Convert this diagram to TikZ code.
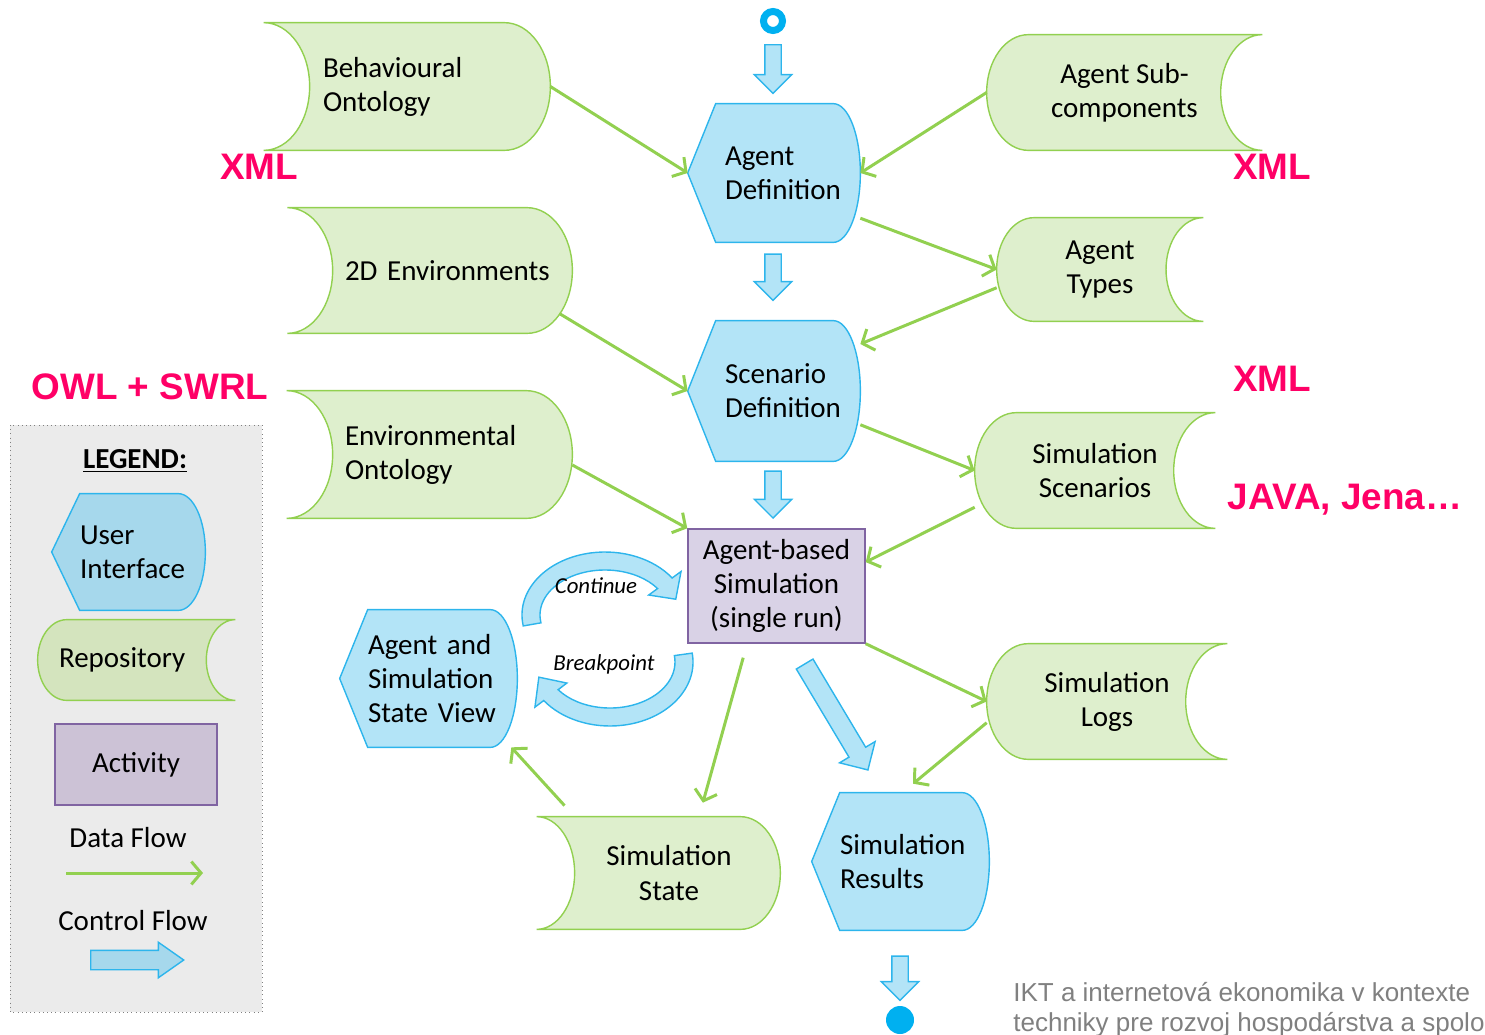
\documentclass[tikz,border=0pt]{standalone}
\usepackage{fontspec}
\setmainfont{Carlito}
\newfontfamily\arialfont{Liberation Sans}
\usetikzlibrary{positioning,calc,arrows.meta,shapes.arrows}

\definecolor{storefill}{HTML}{DEEFCD}
\definecolor{storeline}{HTML}{92D050}
\definecolor{uifill}{HTML}{B3E4F7}
\definecolor{uiline}{HTML}{2DB5EC}
\definecolor{actfill}{HTML}{D9D2E6}
\definecolor{actline}{HTML}{8064A2}
\definecolor{dotblue}{HTML}{00B0F0}
\definecolor{tagred}{HTML}{FF0066}
\definecolor{legendfill}{HTML}{EBEBEB}
\definecolor{leguifill}{HTML}{A6D8EC}
\definecolor{legstorefill}{HTML}{D4E4BE}
\definecolor{legactfill}{HTML}{CCC2D6}
\definecolor{footgray}{HTML}{808080}

\newcommand\nodefont{\fontsize{16.5}{19.4}\selectfont}

\pgfdeclarelayer{frame}
\pgfdeclarelayer{shapes}
\pgfsetlayers{frame,shapes,main}

% repository, hollow on the left
\newcommand\storeleft[2][]{%
  \begin{pgfonlayer}{shapes}
  \path[store,#1] let \p1=(#2.north west), \p2=(#2.south east),
      \n1={(\y1-\y2)/2}, \n2={0.72*\n1} in
    (\x1-\n2*1pt,\y1) -- (\x2-\n2*1pt,\y1)
    arc[start angle=90, end angle=-90, x radius=\n2*1pt, y radius=\n1*1pt]
    -- (\x1-\n2*1pt,\y2)
    arc[start angle=-90, end angle=90, x radius=\n2*1pt, y radius=\n1*1pt] -- cycle;
  \end{pgfonlayer}}
% repository, hollow on the right
\newcommand\storeright[2][]{%
  \begin{pgfonlayer}{shapes}
  \path[store,#1] let \p1=(#2.north west), \p2=(#2.south east),
      \n1={(\y1-\y2)/2}, \n2={0.72*\n1} in
    (\x2,\y1) -- (\x1+\n2*1pt,\y1)
    arc[start angle=90, end angle=270, x radius=\n2*1pt, y radius=\n1*1pt]
    -- (\x2,\y2)
    arc[start angle=270, end angle=90, x radius=\n2*1pt, y radius=\n1*1pt] -- cycle;
  \end{pgfonlayer}}
% user interface: point on the left, round on the right
\newcommand\uishape[2][]{%
  \begin{pgfonlayer}{shapes}
  \path[ui,#1] let \p1=(#2.north west), \p2=(#2.south east), \n1={(\y1-\y2)/2} in
    (\x1-0.56cm,\y2+\n1*1pt) coordinate (#2-tip) -- (\p1) -- (\x2-0.54cm,\y1)
    arc[start angle=90, end angle=-90, x radius=0.54cm, y radius=\n1*1pt]
    -- (\x1,\y2) -- cycle;
  \end{pgfonlayer}}
% control flow: block arrow between two points, with gaps
\newcommand\ctrlflow[5][]{%
  \path let \p1=($(#2)!#4!(#3)$), \p2=($(#3)!#5!(#2)$),
      \n1={atan2(\y2-\y1,\x2-\x1)}, \n2={veclen(\x2-\x1,\y2-\y1)} in
    node[ctrl, rotate=\n1, minimum height=\n2*1pt, anchor=tail, #1] at (\p1) {};}
% bent block arrow round a centre
\newcommand\turnarrow[6]{%
  \begin{scope}[shift={#1}]
  \filldraw[turn] (#4:#2+9 and #3+9)
    arc[start angle=#4, end angle=#5, x radius=#2+9, y radius=#3+9]
    -- (#5:#2+20 and #3+20) -- (#6:#2 and #3) -- (#5:#2-20 and #3-20)
    -- (#5:#2-9 and #3-9)
    arc[start angle=#5, end angle=#4, x radius=#2-9, y radius=#3-9] -- cycle;
  \end{scope}}

\begin{document}
\begin{tikzpicture}[x=0.02cm, y=0.02cm, font=\nodefont,
  sz/.style 2 args={minimum width=#1*0.02cm, minimum height=#2*0.02cm},
  storebox/.style={inner sep=0pt, align=center},
  uibox/.style={inner sep=0pt, align=left},
  actbox/.style={draw=actline, fill=actfill, line width=0.8pt, inner sep=0pt, align=center},
  store/.style={draw=storeline, fill=storefill, line width=0.8pt},
  ui/.style={draw=uiline, fill=uifill, line width=0.8pt},
  flow/.style={draw=storeline, line width=1.7pt, -{Straight Barb[length=5.5pt,width=13pt]}},
  ctrl/.style={single arrow, draw=uiline, fill=uifill, line width=0.8pt,
    inner xsep=0pt, inner ysep=0.15cm, single arrow head extend=0.21cm},
  turn/.style={draw=uiline, fill=uifill, line width=0.8pt},
  tag/.style={text=tagred, font=\arialfont\bfseries\fontsize{21}{24}\selectfont, inner sep=0pt},
  note/.style={font=\fontsize{13}{15}\selectfont\itshape, inner sep=0pt}]
\useasboundingbox (0,0) rectangle (1485,-1035);

% legend frame
\begin{pgfonlayer}{frame}
\draw[gray, dotted, fill=legendfill] (10,-425) rectangle (262,-1012);
\end{pgfonlayer}

% repositories
\node[storebox, sz={240}{127}, text width=4.28cm, align=left] (behav) at (430,-86.5) {Behavioural\\Ontology};
\node[storebox, sz={239}{125}, text width=4.3cm, align=left] (env2d) at (452.5,-270.5) {2D Environments};
\node[storebox, sz={239}{127}, text width=4.3cm, align=left] (envonto) at (452.5,-454.5) {Environmental\\Ontology};
\node[storebox, sz={222}{112}] (simstate) at (669,-873) {Simulation\\State};
\node[storebox, sz={275}{115}] (subcomp) at (1124.5,-92.5) {Agent Sub-\\components};
\node[storebox, sz={206}{103}] (types) at (1100,-269.5) {Agent\\Types};
\node[storebox, sz={240}{115}] (scenarios) at (1095,-470.5) {Simulation\\Scenarios};
\node[storebox, sz={240}{115}] (logs) at (1107,-701.5) {Simulation\\Logs};
\storeleft{behav} \storeleft{env2d} \storeleft{envonto}
\storeright{subcomp} \storeright{types} \storeright{scenarios} \storeright{logs}
\begin{pgfonlayer}{shapes}
\path[store] let \p1=(simstate.north west), \p2=(simstate.south east) in
  (\x1-0.42cm,\y1) -- (\x2-0.8cm,\y1)
  arc[start angle=90, end angle=-90, x radius=0.8cm, y radius=\y1/2-\y2/2]
  -- (\x1-0.42cm,\y2)
  arc[start angle=-90, end angle=90, x radius=0.76cm, y radius=\y1/2-\y2/2] -- cycle;
\end{pgfonlayer}

% user interfaces
\node[uibox, sz={144}{138}, text width=2.52cm] (agentdef) at (788,-173) {Agent\\Definition};
\node[uibox, sz={144}{140}, text width=2.52cm] (scendef) at (788,-391) {Scenario\\Definition};
\node[uibox, sz={145}{137}, text width=2.98cm] (view) at (442.5,-678.5) {Agent and\\Simulation\\State View};
\node[uibox, sz={145}{137}, text width=2.98cm] (results) at (914.5,-861.5) {Simulation\\Results};
\uishape{agentdef} \uishape{scendef} \uishape{view} \uishape{results}

% activity
\node[actbox, sz={177}{114}] (abs) at (776.5,-586) {Agent-based\\Simulation\\(single run)};

% start and end
\node[circle, draw=dotblue, line width=4pt, minimum size=0.38cm, inner sep=0pt] (start) at (773,-21) {};
\node[circle, fill=dotblue, minimum size=0.56cm, inner sep=0pt] (stop) at (900,-1020) {};

% control flow
\coordinate (absout) at ($(abs.south)+(16,0)$);
\coordinate (resin) at ($(results.north)+(-33,0)$);
\ctrlflow[name=down1]{start.south}{start |- agentdef.north}{0.2cm}{0.22cm}
\ctrlflow[name=down2]{start |- agentdef.south}{start |- scendef.north}{0.22cm}{0.42cm}
\ctrlflow[name=down3]{start |- scendef.south}{start |- abs.north}{0.18cm}{0.22cm}
\ctrlflow[name=down4]{stop |- results.south}{stop.north}{0.5cm}{0.12cm}
\ctrlflow[name=diag, inner ysep=0.18cm, single arrow head extend=0.22cm]{absout}{resin}{0.46cm}{0.54cm}

\turnarrow{(605,-615)}{74}{54}{190}{36}{17}
\turnarrow{(610,-662)}{74}{55}{8}{-143}{-164}
\node[note] (cont) at (596,-586) {Continue};
\node[note] (brk) at (604,-664) {Breakpoint};

% data flow
\draw[flow] (behav.east) -- (agentdef-tip);
\draw[flow] (subcomp.west) -- (agentdef.east);
\draw[flow] (agentdef.-32) -- (types.west);
\draw[flow] (types.190) -- (scendef.33);
\draw[flow] ($(env2d.east)+(-13,-43)$) -- (scendef-tip);
\draw[flow] (scendef.-25) -- (scenarios.west);
\draw[flow] (envonto.-5) -- (abs.north west);
\draw[flow] (scenarios.197) -- (abs.15);
\draw[flow] (abs.south east) -- (logs.west);
\draw[flow, shorten >=0.28cm] (logs.190) -- (results.100);
\draw[flow, shorten <=0.29cm, shorten >=0.29cm] (abs.-117) -- ($(simstate.north)+(30,0)$);
\draw[flow, shorten <=0.3cm] ($(simstate.north west)+(17,0)$) -- (view.-45);

% formats
\node[tag] (xmlbehav) at (259,-167) {XML};
\node[tag] (xmlsub) at (1272,-167) {XML};
\node[tag] (xmltypes) at (1272,-379) {XML};
\node[tag] (owl) at (150,-387) {OWL + SWRL};
\node[tag] (java) at (1345,-500) {JAVA, Jena…};

% legend
\node[font=\nodefont\bfseries] (legtitle) at (135,-461) {\underline{LEGEND:}};
\node[uibox, sz={125}{116}, text width=2.5cm] (legui) at (142.5,-552) {User\\Interface};
\uishape[fill=leguifill]{legui}
\node[storebox, sz={197}{80}, text width=3.1cm, align=left] (legstore) at (136.5,-660) {Repository};
\storeright[fill=legstorefill]{legstore}
\node[actbox, fill=legactfill, sz={162}{81}] (legact) at (136,-764.5) {Activity};
\node (legdata) at (128,-838) {Data Flow};
\coordinate (legdata-a) at (66,-873);
\coordinate (legdata-b) at (203,-873);
\draw[flow] (legdata-a) -- (legdata-b);
\node (legctrl) at (133,-921) {Control Flow};
\coordinate (legctrl-a) at (90,-960);
\coordinate (legctrl-b) at (183,-960);
\ctrlflow[name=legarrow, fill=leguifill, inner ysep=0.18cm, single arrow head extend=0.16cm, single arrow tip angle=70]{legctrl-a}{legctrl-b}{0pt}{0pt}

% footer
\node[anchor=north west, align=left, inner sep=0pt, text=footgray,
  font=\arialfont\fontsize{14.8}{17}\selectfont] (footer) at (1013,-982)
  {IKT a internetová ekonomika v kontexte\\techniky pre rozvoj hospodárstva a spolo};
\end{tikzpicture}
\end{document}
